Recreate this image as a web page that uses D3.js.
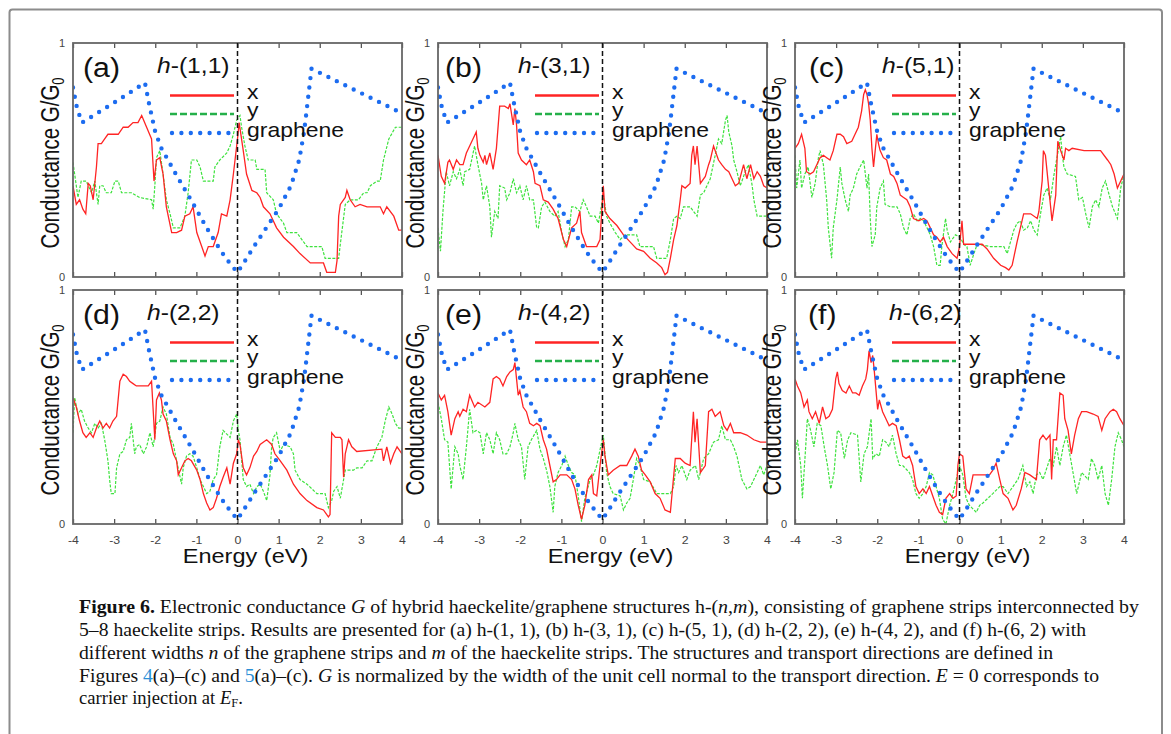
<!DOCTYPE html>
<html><head><meta charset="utf-8">
<script src="https://cdn.jsdelivr.net/npm/d3@7"></script>
<style>body{margin:0;background:#fff;} svg{display:block;}</style>
</head><body>
<svg id="chart" width="1171" height="734"></svg>
<script>
// ---------------- data ----------------
const energyTicks = [-4,-3,-2,-1,0,1,2,3,4];
const conductanceTicks = [0,1];
const panelTags = ["(a)","(b)","(c)","(d)","(e)","(f)"];
const structures = ["(1,1)","(3,1)","(5,1)","(2,2)","(4,2)","(6,2)"];
const legendNames = ["x","y","graphene"];

// graphene reference (same in every panel)
const grapheneCurve = [[-4,0.81],[-3.9,0.72],[-3.78,0.66],[-3.0,0.745],[-2.25,0.83],[-2.15,0.74],[-2.0,0.62],[-1.85,0.55],[-1.5,0.44],[-1.1,0.32],[-0.75,0.21],[-0.4,0.11],[-0.15,0.05],[0,0.02],[0.15,0.06],[0.4,0.13],[0.7,0.21],[1.0,0.29],[1.3,0.39],[1.5,0.5],[1.62,0.62],[1.72,0.77],[1.8,0.89],[4.0,0.70]];

const xA = [[-4.00,0.39],[-3.92,0.31],[-3.84,0.33],[-3.76,0.29],[-3.69,0.27],[-3.63,0.40],[-3.58,0.39],[-3.51,0.33],[-3.43,0.47],[-3.39,0.57],[-3.31,0.57],[-3.23,0.59],[-3.15,0.61],[-3.03,0.61],[-2.90,0.61],[-2.78,0.64],[-2.66,0.64],[-2.54,0.66],[-2.42,0.66],[-2.33,0.69],[-2.21,0.64],[-2.09,0.59],[-2.03,0.41],[-1.97,0.50],[-1.89,0.51],[-1.81,0.44],[-1.73,0.30],[-1.60,0.19],[-1.48,0.19],[-1.36,0.20],[-1.28,0.26],[-1.16,0.27],[-1.08,0.30],[-0.99,0.19],[-0.87,0.13],[-0.79,0.09],[-0.71,0.13],[-0.59,0.13],[-0.47,0.19],[-0.39,0.27],[-0.26,0.26],[-0.18,0.33],[-0.10,0.44],[0.00,0.59],[0.04,0.66],[0.14,0.54],[0.22,0.44],[0.35,0.37],[0.47,0.36],[0.55,0.34],[0.63,0.30],[0.79,0.27],[0.95,0.21],[1.12,0.17],[1.36,0.13],[1.52,0.10],[1.77,0.06],[2.09,0.06],[2.17,0.02],[2.38,0.02],[2.42,0.07],[2.46,0.26],[2.50,0.31],[2.62,0.34],[2.66,0.37],[2.74,0.33],[2.86,0.30],[2.98,0.31],[3.15,0.30],[3.47,0.30],[3.55,0.27],[3.63,0.30],[3.80,0.26],[3.92,0.20],[4.00,0.20]];
const yA = [[-4.00,0.49],[-3.96,0.44],[-3.88,0.34],[-3.80,0.41],[-3.68,0.41],[-3.55,0.36],[-3.47,0.41],[-3.39,0.31],[-3.35,0.39],[-3.27,0.39],[-3.19,0.36],[-3.07,0.36],[-2.98,0.41],[-2.90,0.41],[-2.82,0.36],[-2.58,0.36],[-2.38,0.34],[-2.09,0.33],[-2.05,0.29],[-2.01,0.39],[-1.97,0.51],[-1.89,0.54],[-1.81,0.44],[-1.73,0.33],[-1.64,0.27],[-1.56,0.21],[-1.40,0.21],[-1.28,0.26],[-1.20,0.36],[-1.12,0.50],[-0.99,0.50],[-0.91,0.47],[-0.83,0.41],[-0.59,0.41],[-0.55,0.47],[-0.43,0.50],[-0.26,0.53],[-0.18,0.56],[-0.10,0.61],[-0.02,0.67],[0.06,0.69],[0.10,0.64],[0.18,0.56],[0.26,0.50],[0.43,0.50],[0.47,0.46],[0.67,0.46],[0.71,0.36],[0.87,0.33],[0.95,0.27],[1.12,0.23],[1.20,0.19],[1.44,0.19],[1.69,0.13],[2.05,0.13],[2.13,0.08],[2.46,0.08],[2.50,0.14],[2.62,0.31],[2.74,0.33],[2.94,0.33],[3.07,0.36],[3.15,0.36],[3.23,0.39],[3.39,0.41],[3.47,0.41],[3.55,0.50],[3.68,0.59],[3.84,0.64],[4.00,0.64]];

const xB = [[-4.00,0.52],[-3.92,0.43],[-3.84,0.40],[-3.76,0.49],[-3.72,0.50],[-3.63,0.46],[-3.55,0.50],[-3.47,0.48],[-3.39,0.48],[-3.31,0.53],[-3.23,0.56],[-3.15,0.59],[-3.07,0.62],[-3.03,0.55],[-2.98,0.52],[-2.90,0.49],[-2.86,0.52],[-2.82,0.48],[-2.74,0.53],[-2.66,0.46],[-2.58,0.55],[-2.50,0.73],[-2.38,0.73],[-2.29,0.72],[-2.25,0.74],[-2.17,0.65],[-2.13,0.72],[-2.09,0.65],[-2.05,0.53],[-1.97,0.50],[-1.85,0.48],[-1.77,0.50],[-1.68,0.45],[-1.64,0.40],[-1.52,0.39],[-1.44,0.33],[-1.32,0.32],[-1.20,0.29],[-1.08,0.25],[-0.95,0.16],[-0.87,0.13],[-0.75,0.21],[-0.63,0.23],[-0.55,0.28],[-0.51,0.19],[-0.39,0.13],[-0.14,0.13],[-0.06,0.16],[0.02,0.39],[0.06,0.28],[0.18,0.25],[0.35,0.22],[0.51,0.18],[0.67,0.15],[0.83,0.12],[1.00,0.11],[1.16,0.08],[1.32,0.06],[1.44,0.04],[1.52,0.01],[1.58,0.02],[1.65,0.08],[1.73,0.16],[1.81,0.22],[1.89,0.33],[1.93,0.39],[2.01,0.38],[2.13,0.40],[2.17,0.52],[2.21,0.56],[2.25,0.48],[2.30,0.56],[2.38,0.40],[2.50,0.43],[2.58,0.48],[2.62,0.50],[2.70,0.56],[2.82,0.50],[2.90,0.48],[2.99,0.46],[3.07,0.45],[3.15,0.42],[3.23,0.39],[3.31,0.40],[3.43,0.48],[3.51,0.42],[3.60,0.48],[3.68,0.42],[3.76,0.45],[3.84,0.43],[3.92,0.39],[4.00,0.38]];
const yB = [[-4.00,0.21],[-3.94,0.11],[-3.88,0.28],[-3.80,0.45],[-3.72,0.39],[-3.63,0.45],[-3.55,0.42],[-3.47,0.46],[-3.39,0.39],[-3.35,0.45],[-3.23,0.46],[-3.11,0.56],[-3.03,0.48],[-2.94,0.40],[-2.90,0.33],[-2.82,0.39],[-2.74,0.30],[-2.70,0.17],[-2.62,0.28],[-2.54,0.25],[-2.50,0.39],[-2.38,0.38],[-2.33,0.33],[-2.25,0.36],[-2.17,0.42],[-2.09,0.36],[-2.01,0.39],[-1.93,0.33],[-1.85,0.39],[-1.77,0.33],[-1.68,0.33],[-1.60,0.21],[-1.56,0.21],[-1.48,0.30],[-1.40,0.32],[-1.28,0.28],[-1.16,0.26],[-1.08,0.28],[-0.99,0.19],[-0.91,0.13],[-0.83,0.16],[-0.75,0.30],[-0.67,0.30],[-0.55,0.28],[-0.47,0.33],[-0.39,0.30],[-0.30,0.26],[-0.18,0.26],[-0.10,0.23],[0.02,0.35],[0.10,0.26],[0.18,0.23],[0.31,0.19],[0.43,0.16],[0.55,0.18],[0.83,0.18],[0.91,0.13],[1.24,0.13],[1.32,0.08],[1.56,0.08],[1.65,0.16],[1.73,0.25],[1.81,0.26],[1.89,0.25],[1.97,0.30],[2.13,0.30],[2.30,0.26],[2.38,0.35],[2.46,0.36],[2.54,0.39],[2.62,0.42],[2.74,0.52],[2.82,0.59],[2.90,0.57],[2.99,0.67],[3.03,0.69],[3.07,0.62],[3.15,0.56],[3.19,0.50],[3.27,0.45],[3.35,0.39],[3.47,0.45],[3.55,0.48],[3.64,0.39],[3.68,0.33],[3.76,0.26],[4.00,0.26]];

const xC = [[-4.00,0.55],[-3.92,0.57],[-3.84,0.61],[-3.76,0.55],[-3.72,0.45],[-3.63,0.44],[-3.55,0.45],[-3.47,0.48],[-3.39,0.51],[-3.31,0.52],[-3.23,0.51],[-3.15,0.50],[-3.07,0.54],[-2.98,0.61],[-2.90,0.61],[-2.82,0.60],[-2.74,0.57],[-2.62,0.58],[-2.54,0.61],[-2.46,0.64],[-2.38,0.71],[-2.33,0.78],[-2.29,0.80],[-2.25,0.78],[-2.21,0.74],[-2.17,0.67],[-2.13,0.55],[-2.09,0.47],[-2.05,0.54],[-2.01,0.61],[-1.97,0.57],[-1.93,0.54],[-1.85,0.51],[-1.77,0.50],[-1.68,0.44],[-1.60,0.43],[-1.52,0.40],[-1.44,0.35],[-1.36,0.34],[-1.28,0.33],[-1.20,0.30],[-1.12,0.25],[-0.99,0.24],[-0.87,0.25],[-0.79,0.24],[-0.71,0.21],[-0.63,0.18],[-0.55,0.17],[-0.47,0.15],[-0.39,0.17],[-0.30,0.13],[-0.18,0.10],[-0.06,0.08],[0.00,0.13],[0.06,0.24],[0.10,0.14],[0.55,0.14],[0.67,0.12],[0.83,0.08],[1.00,0.05],[1.12,0.04],[1.20,0.03],[1.28,0.05],[1.40,0.15],[1.52,0.24],[1.56,0.27],[1.73,0.27],[1.89,0.25],[1.93,0.28],[2.01,0.41],[2.04,0.54],[2.09,0.52],[2.17,0.38],[2.25,0.24],[2.34,0.35],[2.39,0.58],[2.46,0.54],[2.54,0.50],[2.58,0.55],[2.66,0.54],[2.74,0.55],[3.03,0.54],[3.43,0.54],[3.60,0.50],[3.68,0.48],[3.76,0.44],[3.84,0.38],[3.92,0.41],[4.00,0.44]];
const yC = [[-4.00,0.52],[-3.96,0.38],[-3.88,0.50],[-3.84,0.38],[-3.76,0.44],[-3.68,0.47],[-3.59,0.34],[-3.51,0.40],[-3.43,0.51],[-3.39,0.54],[-3.31,0.48],[-3.23,0.33],[-3.19,0.21],[-3.11,0.08],[-3.07,0.21],[-2.98,0.33],[-2.90,0.47],[-2.86,0.40],[-2.78,0.33],[-2.70,0.28],[-2.66,0.35],[-2.58,0.38],[-2.50,0.44],[-2.42,0.47],[-2.33,0.50],[-2.25,0.38],[-2.21,0.44],[-2.17,0.25],[-2.13,0.13],[-2.05,0.18],[-2.01,0.30],[-1.93,0.38],[-1.85,0.41],[-1.81,0.31],[-1.68,0.30],[-1.52,0.30],[-1.44,0.27],[-1.36,0.21],[-1.28,0.18],[-1.20,0.25],[-1.12,0.27],[-1.03,0.24],[-0.95,0.25],[-0.87,0.24],[-0.79,0.21],[-0.71,0.18],[-0.63,0.13],[-0.55,0.05],[-0.47,0.05],[-0.43,0.13],[-0.34,0.25],[-0.30,0.20],[-0.22,0.15],[-0.10,0.18],[0.02,0.17],[0.10,0.14],[0.18,0.13],[0.26,0.05],[0.35,0.10],[0.43,0.14],[0.75,0.13],[1.08,0.13],[1.16,0.10],[1.24,0.15],[1.32,0.20],[1.40,0.23],[1.48,0.24],[1.56,0.20],[1.65,0.21],[1.73,0.24],[1.81,0.20],[1.89,0.18],[1.97,0.27],[2.05,0.35],[2.13,0.38],[2.21,0.33],[2.30,0.44],[2.38,0.52],[2.46,0.60],[2.50,0.52],[2.54,0.47],[2.62,0.44],[2.82,0.43],[2.90,0.33],[2.99,0.34],[3.07,0.27],[3.15,0.21],[3.23,0.30],[3.31,0.33],[3.39,0.30],[3.47,0.38],[3.55,0.41],[3.64,0.35],[3.72,0.30],[3.84,0.25],[3.92,0.38],[4.00,0.44]];

const xD = [[-4.00,0.54],[-3.92,0.50],[-3.84,0.44],[-3.76,0.39],[-3.68,0.37],[-3.59,0.39],[-3.51,0.37],[-3.43,0.41],[-3.35,0.44],[-3.27,0.41],[-3.19,0.43],[-3.11,0.41],[-3.03,0.44],[-2.94,0.46],[-2.86,0.61],[-2.78,0.64],[-2.70,0.63],[-2.62,0.61],[-2.54,0.60],[-2.46,0.59],[-2.38,0.59],[-2.29,0.59],[-2.17,0.59],[-2.09,0.61],[-2.01,0.36],[-1.97,0.53],[-1.90,0.56],[-1.85,0.53],[-1.81,0.47],[-1.73,0.44],[-1.64,0.36],[-1.56,0.30],[-1.48,0.27],[-1.44,0.21],[-1.36,0.24],[-1.28,0.27],[-1.20,0.28],[-1.12,0.27],[-0.99,0.23],[-0.91,0.19],[-0.83,0.13],[-0.75,0.09],[-0.67,0.06],[-0.59,0.07],[-0.51,0.11],[-0.43,0.16],[-0.35,0.20],[-0.26,0.24],[-0.18,0.17],[-0.10,0.26],[-0.02,0.30],[0.02,0.36],[0.06,0.34],[0.14,0.24],[0.22,0.21],[0.30,0.24],[0.39,0.29],[0.47,0.31],[0.55,0.34],[0.71,0.36],[0.83,0.34],[0.91,0.30],[1.04,0.27],[1.20,0.23],[1.36,0.17],[1.52,0.13],[1.69,0.10],[1.93,0.07],[2.09,0.06],[2.21,0.03],[2.25,0.04],[2.29,0.39],[2.38,0.37],[2.50,0.37],[2.54,0.36],[2.58,0.20],[2.62,0.30],[2.70,0.36],[2.78,0.33],[2.90,0.31],[3.51,0.32],[3.55,0.27],[3.63,0.33],[3.72,0.26],[3.80,0.30],[3.88,0.33],[4.00,0.30]];
const yD = [[-4.00,0.39],[-3.96,0.54],[-3.88,0.47],[-3.80,0.49],[-3.72,0.44],[-3.63,0.41],[-3.55,0.39],[-3.47,0.43],[-3.39,0.41],[-3.31,0.43],[-3.23,0.36],[-3.15,0.27],[-3.11,0.19],[-3.07,0.13],[-2.98,0.13],[-2.94,0.24],[-2.86,0.30],[-2.78,0.31],[-2.70,0.36],[-2.62,0.37],[-2.58,0.43],[-2.50,0.30],[-2.46,0.33],[-2.38,0.34],[-2.29,0.30],[-2.21,0.33],[-2.13,0.39],[-2.05,0.33],[-1.97,0.43],[-1.89,0.44],[-1.81,0.50],[-1.73,0.47],[-1.64,0.37],[-1.56,0.34],[-1.48,0.27],[-1.36,0.17],[-1.32,0.24],[-1.24,0.29],[-1.16,0.30],[-1.08,0.29],[-0.99,0.24],[-0.91,0.19],[-0.83,0.16],[-0.75,0.13],[-0.67,0.14],[-0.59,0.19],[-0.51,0.21],[-0.43,0.33],[-0.35,0.40],[-0.18,0.37],[-0.10,0.44],[-0.02,0.47],[0.02,0.40],[0.06,0.36],[0.14,0.19],[0.22,0.16],[0.30,0.17],[0.39,0.13],[0.47,0.16],[0.55,0.17],[0.63,0.14],[0.71,0.10],[0.79,0.21],[0.83,0.33],[0.87,0.37],[0.95,0.39],[1.04,0.31],[1.12,0.34],[1.28,0.33],[1.36,0.30],[1.40,0.23],[1.52,0.19],[1.69,0.17],[1.93,0.13],[2.13,0.13],[2.21,0.07],[2.29,0.10],[2.34,0.14],[2.42,0.16],[2.50,0.11],[2.58,0.19],[2.62,0.23],[2.82,0.23],[2.90,0.24],[3.03,0.24],[3.15,0.27],[3.27,0.27],[3.39,0.33],[3.51,0.37],[3.59,0.44],[3.68,0.50],[3.76,0.47],[3.84,0.43],[3.92,0.41],[4.00,0.41]];

const xE = [[-4.00,0.56],[-3.92,0.53],[-3.84,0.55],[-3.76,0.48],[-3.68,0.38],[-3.59,0.45],[-3.51,0.48],[-3.47,0.46],[-3.39,0.49],[-3.31,0.48],[-3.23,0.55],[-3.11,0.50],[-3.03,0.52],[-2.86,0.50],[-2.74,0.52],[-2.66,0.62],[-2.58,0.63],[-2.50,0.62],[-2.42,0.59],[-2.33,0.63],[-2.25,0.65],[-2.17,0.66],[-2.13,0.69],[-2.09,0.62],[-2.05,0.55],[-2.01,0.57],[-1.93,0.50],[-1.85,0.48],[-1.77,0.43],[-1.68,0.42],[-1.60,0.43],[-1.52,0.42],[-1.44,0.36],[-1.36,0.32],[-1.28,0.25],[-1.20,0.18],[-1.12,0.19],[-1.03,0.21],[-0.87,0.21],[-0.75,0.19],[-0.67,0.15],[-0.59,0.08],[-0.51,0.02],[-0.43,0.08],[-0.34,0.19],[-0.26,0.21],[-0.22,0.13],[-0.14,0.12],[-0.06,0.25],[0.02,0.36],[0.06,0.29],[0.14,0.21],[0.26,0.23],[0.43,0.25],[0.59,0.25],[0.71,0.29],[0.79,0.32],[0.87,0.29],[0.95,0.23],[1.04,0.21],[1.16,0.18],[1.28,0.13],[1.40,0.11],[1.52,0.06],[1.65,0.05],[1.77,0.28],[1.89,0.28],[2.01,0.26],[2.13,0.25],[2.21,0.48],[2.25,0.35],[2.30,0.45],[2.38,0.22],[2.50,0.25],[2.58,0.48],[2.66,0.49],[2.74,0.46],[2.86,0.48],[2.95,0.42],[3.03,0.40],[3.11,0.43],[3.19,0.39],[3.35,0.39],[3.51,0.38],[3.68,0.36],[3.84,0.35],[4.00,0.35]];
const yE = [[-4.00,0.52],[-3.92,0.45],[-3.84,0.36],[-3.76,0.35],[-3.68,0.15],[-3.59,0.33],[-3.51,0.30],[-3.47,0.25],[-3.39,0.19],[-3.31,0.33],[-3.23,0.49],[-3.15,0.39],[-3.07,0.40],[-2.98,0.39],[-2.90,0.30],[-2.82,0.39],[-2.74,0.36],[-2.66,0.30],[-2.58,0.39],[-2.50,0.36],[-2.42,0.30],[-2.33,0.30],[-2.25,0.33],[-2.17,0.39],[-2.13,0.43],[-2.05,0.36],[-1.97,0.33],[-1.89,0.19],[-1.81,0.33],[-1.73,0.36],[-1.60,0.40],[-1.52,0.32],[-1.44,0.28],[-1.36,0.23],[-1.28,0.16],[-1.20,0.05],[-1.16,0.16],[-1.08,0.22],[-0.99,0.25],[-0.91,0.29],[-0.83,0.25],[-0.75,0.22],[-0.67,0.21],[-0.59,0.12],[-0.51,0.01],[-0.43,0.11],[-0.30,0.19],[-0.22,0.21],[-0.14,0.25],[-0.02,0.35],[0.02,0.38],[0.10,0.22],[0.18,0.16],[0.26,0.13],[0.43,0.12],[0.51,0.06],[0.59,0.09],[0.67,0.11],[0.75,0.19],[0.83,0.28],[0.91,0.25],[1.00,0.19],[1.16,0.18],[1.32,0.13],[1.65,0.13],[1.73,0.16],[1.79,0.25],[1.85,0.22],[1.93,0.25],[2.05,0.19],[2.13,0.23],[2.26,0.25],[2.34,0.19],[2.46,0.28],[2.58,0.30],[2.70,0.35],[2.82,0.36],[2.90,0.42],[2.99,0.36],[3.11,0.36],[3.19,0.33],[3.27,0.29],[3.39,0.19],[3.51,0.15],[3.60,0.16],[3.68,0.19],[3.76,0.22],[3.84,0.25],[3.92,0.21],[4.00,0.25]];

const xF = [[-4.00,0.62],[-3.94,0.59],[-3.86,0.56],[-3.78,0.50],[-3.70,0.53],[-3.66,0.48],[-3.58,0.45],[-3.50,0.48],[-3.41,0.43],[-3.33,0.50],[-3.25,0.45],[-3.17,0.46],[-3.09,0.49],[-3.01,0.62],[-2.97,0.65],[-2.93,0.60],[-2.85,0.57],[-2.76,0.56],[-2.68,0.59],[-2.60,0.56],[-2.52,0.56],[-2.44,0.55],[-2.36,0.59],[-2.28,0.62],[-2.24,0.66],[-2.20,0.74],[-2.15,0.69],[-2.11,0.72],[-2.07,0.65],[-2.03,0.57],[-1.99,0.49],[-1.95,0.53],[-1.87,0.48],[-1.79,0.45],[-1.71,0.42],[-1.63,0.43],[-1.54,0.42],[-1.46,0.36],[-1.38,0.29],[-1.30,0.28],[-1.22,0.29],[-1.14,0.25],[-1.06,0.16],[-0.98,0.13],[-0.89,0.15],[-0.81,0.13],[-0.73,0.16],[-0.65,0.12],[-0.57,0.08],[-0.49,0.05],[-0.41,0.04],[-0.33,0.11],[-0.24,0.13],[-0.16,0.11],[-0.08,0.12],[-0.04,0.25],[0.00,0.30],[0.08,0.29],[0.16,0.15],[0.24,0.13],[0.33,0.21],[0.73,0.21],[0.81,0.23],[0.89,0.26],[0.98,0.19],[1.06,0.13],[1.18,0.11],[1.30,0.06],[1.38,0.08],[1.50,0.15],[1.59,0.22],[1.71,0.21],[1.87,0.19],[1.95,0.36],[2.03,0.38],[2.11,0.36],[2.20,0.38],[2.24,0.19],[2.28,0.36],[2.36,0.36],[2.44,0.56],[2.52,0.55],[2.56,0.45],[2.64,0.40],[2.72,0.30],[2.80,0.38],[2.89,0.45],[2.97,0.48],[3.09,0.48],[3.25,0.47],[3.37,0.46],[3.46,0.40],[3.54,0.45],[3.66,0.48],[3.74,0.49],[3.82,0.48],[3.90,0.45],[4.00,0.42]];
const yF = [[-4.00,0.30],[-3.94,0.36],[-3.86,0.25],[-3.82,0.11],[-3.74,0.33],[-3.70,0.45],[-3.62,0.40],[-3.54,0.33],[-3.46,0.43],[-3.37,0.42],[-3.29,0.33],[-3.21,0.25],[-3.13,0.15],[-3.05,0.22],[-2.97,0.40],[-2.89,0.39],[-2.80,0.28],[-2.72,0.36],[-2.64,0.39],[-2.48,0.38],[-2.40,0.18],[-2.32,0.30],[-2.24,0.33],[-2.15,0.45],[-2.11,0.28],[-2.03,0.30],[-1.95,0.29],[-1.87,0.36],[-1.79,0.35],[-1.71,0.33],[-1.63,0.38],[-1.54,0.30],[-1.46,0.25],[-1.38,0.25],[-1.22,0.22],[-1.14,0.19],[-1.06,0.13],[-0.98,0.11],[-0.89,0.13],[-0.81,0.16],[-0.73,0.22],[-0.65,0.21],[-0.57,0.16],[-0.49,0.11],[-0.41,0.02],[-0.33,0.00],[-0.24,0.08],[-0.16,0.13],[-0.08,0.19],[0.00,0.25],[0.08,0.21],[0.16,0.11],[0.24,0.08],[0.41,0.05],[0.49,0.08],[0.57,0.09],[0.69,0.11],[0.81,0.13],[0.98,0.16],[1.06,0.16],[1.18,0.13],[1.30,0.16],[1.42,0.19],[1.54,0.25],[1.63,0.16],[1.71,0.18],[1.79,0.13],[1.87,0.21],[1.95,0.22],[2.03,0.19],[2.20,0.28],[2.28,0.25],[2.36,0.33],[2.44,0.25],[2.52,0.33],[2.60,0.38],[2.68,0.30],[2.76,0.22],[2.85,0.13],[2.97,0.22],[3.13,0.19],[3.21,0.28],[3.29,0.25],[3.37,0.19],[3.46,0.25],[3.54,0.13],[3.62,0.08],[3.70,0.19],[3.78,0.33],[3.86,0.39],[3.94,0.36],[4.00,0.33]];

const seriesX = [xA, xB, xC, xD, xE, xF];
const seriesY = [yA, yB, yC, yD, yE, yF];

// ---------------- layout / style ----------------
const colLeft = [73, 438, 795], rowTop = [43, 290];
const PW = 329, PH = 234;
const tagDx = [10, 7, 14, 10, 7, 13];
const hDx = [84, 80, 87, 74, 80, 94];
const SX = 1.12;
const FONT = "'Liberation Sans', Arial, sans-serif";
const C_RED = "#ff2424", C_GREEN = "#3ee23e", C_GREEN_LEG = "#25b04a", C_BLUE = "#1c6cf0";

const svg = d3.select("#chart").style("font-family", FONT);
svg.append("rect").attr("width", 1171).attr("height", 734).attr("fill", "#fff");
svg.append("rect").attr("x", 9.5).attr("y", 9.5).attr("width", 1152.5).attr("height", 760)
  .attr("rx", 3).attr("fill", "none").attr("stroke", "#8c8c8c").attr("stroke-width", 2);

function sText(parent, x, y, size, anchor) {
  return parent.append("text")
    .attr("transform", `translate(${x},${y}) scale(${SX},1)`)
    .attr("font-size", size).attr("text-anchor", anchor || "start").attr("fill", "#111");
}

const defs = svg.append("defs");

panelTags.forEach((tag, i) => {
  const col = i % 3, row = Math.floor(i / 3);
  const L = colLeft[col], T = rowTop[row];
  const x = d3.scaleLinear().domain([-4, 4]).range([L, L + PW]);
  const y = d3.scaleLinear().domain([0, 1]).range([T + PH, T]);
  const g = svg.append("g");

  defs.append("clipPath").attr("id", "clip" + i).append("rect")
    .attr("x", L).attr("y", T - 2).attr("width", PW).attr("height", PH + 4);

  // ticks
  const bottom = g.append("g").attr("transform", `translate(0,${T + PH})`)
    .call(d3.axisBottom(x).tickValues(energyTicks).tickSize(-5).tickPadding(12)
      .tickFormat(row === 1 ? (d => String(d)) : ""));
  bottom.select(".domain").remove();
  bottom.selectAll("line").attr("stroke", "#555").attr("stroke-width", 1.3);
  bottom.selectAll("text").attr("font-size", 11).attr("fill", "#444").attr("font-family", FONT)
    .attr("transform", `scale(${SX},1)`);
  const top = g.append("g").attr("transform", `translate(0,${T})`)
    .call(d3.axisTop(x).tickValues(energyTicks).tickSize(-5).tickFormat(""));
  top.select(".domain").remove();
  top.selectAll("line").attr("stroke", "#555").attr("stroke-width", 1.3);

  const left = g.append("g").attr("transform", `translate(${L},0)`)
    .call(d3.axisLeft(y).tickValues(conductanceTicks).tickSize(0).tickPadding(8).tickFormat(d3.format("d")));
  left.select(".domain").remove();
  left.selectAll("text").attr("font-size", 11).attr("fill", "#444").attr("font-family", FONT);

  // curves
  const line = d3.line().x(d => x(d[0])).y(d => y(d[1]));
  const plot = g.append("g").attr("clip-path", `url(#clip${i})`);
  plot.append("path").datum(seriesY[i]).attr("d", line).attr("fill", "none")
    .attr("stroke", C_GREEN).attr("stroke-width", 1.2).attr("stroke-dasharray", "3,1.5");
  plot.append("path").datum(seriesX[i]).attr("d", line).attr("fill", "none")
    .attr("stroke", C_RED).attr("stroke-width", 1.3);
  plot.append("path").datum(grapheneCurve).attr("d", line).attr("fill", "none")
    .attr("stroke", C_BLUE).attr("stroke-width", 4.4).attr("stroke-linecap", "round")
    .attr("stroke-dasharray", "0,9.4");

  // frame
  g.append("rect").attr("x", L).attr("y", T).attr("width", PW).attr("height", PH)
    .attr("fill", "none").attr("stroke", "#666").attr("stroke-width", 1.8);

  // labels
  sText(g, L + tagDx[i], T + 34, 27).text(tag);
  const h = sText(g, L + hDx[i], T + 30, 22);
  h.append("tspan").attr("font-style", "italic").text("h");
  h.append("tspan").text("-" + structures[i]);

  // legend
  const lx0 = L + 97, lx1 = L + 161, ltx = L + 174;
  const legY = [T + 52.5, T + 71, T + 90];
  g.append("line").attr("x1", lx0).attr("x2", lx1).attr("y1", legY[0]).attr("y2", legY[0])
    .attr("stroke", C_RED).attr("stroke-width", 2.6);
  g.append("line").attr("x1", lx0).attr("x2", lx1).attr("y1", legY[1]).attr("y2", legY[1])
    .attr("stroke", C_GREEN_LEG).attr("stroke-width", 2.3).attr("stroke-dasharray", "7,3");
  g.append("line").attr("x1", lx0 + 2).attr("x2", lx1).attr("y1", legY[2]).attr("y2", legY[2])
    .attr("stroke", C_BLUE).attr("stroke-width", 4.4).attr("stroke-linecap", "round")
    .attr("stroke-dasharray", "0,9.4");
  legendNames.forEach((n, k) => sText(g, ltx, legY[k] + 3 + (k === 2 ? 1 : 0), 20.5).text(n));

  // y label
  const yl = g.append("text")
    .attr("transform", `translate(${L - 8},${T + PH / 2 + 3}) rotate(-90) scale(1,1.28)`)
    .attr("text-anchor", "middle").attr("font-size", 20.5).attr("fill", "#111")
    .attr("dy", "-0.22em");
  yl.append("tspan").text("Conductance G/G");
  yl.append("tspan").attr("font-size", 13).attr("dy", 4).text("0");

  if (row === 1) {
    sText(g, L + PW / 2 + 8, T + PH + 39, 21, "middle").text("Energy (eV)");
  }
});

// zero dashed lines spanning both rows
colLeft.forEach(L => {
  const x = d3.scaleLinear().domain([-4, 4]).range([L, L + PW]);
  svg.append("line").attr("x1", x(0)).attr("x2", x(0)).attr("y1", rowTop[0]).attr("y2", rowTop[1] + PH)
    .attr("stroke", "#111").attr("stroke-width", 1.5).attr("stroke-dasharray", "5,3");
});

// ---------------- caption ----------------
const cap = svg.append("g").attr("font-family", "'Liberation Serif', 'Times New Roman', serif")
  .attr("font-size", 18.6).attr("fill", "#111");
const capX = 79, capY = [613, 636, 659, 682, 704];
const capLen = [1060, 1007, 974, 1020, null];
const capLines = [
  [["Figure 6.", "b"], [" Electronic conductance "], ["G", "i"], [" of hybrid haeckelite/graphene structures h-("], ["n", "i"], [","], ["m", "i"], ["), consisting of graphene strips interconnected by"]],
  [["5–8 haeckelite strips. Results are presented for (a) h-(1, 1), (b) h-(3, 1), (c) h-(5, 1), (d) h-(2, 2), (e) h-(4, 2), and (f) h-(6, 2) with"]],
  [["different widths "], ["n", "i"], [" of the graphene strips and "], ["m", "i"], [" of the haeckelite strips. The structures and transport directions are defined in"]],
  [["Figures "], ["4", "link"], ["(a)–(c) and "], ["5", "link"], ["(a)–(c). "], ["G", "i"], [" is normalized by the width of the unit cell normal to the transport direction. "], ["E", "i"], [" = 0 corresponds to"]],
  [["carrier injection at "], ["E", "i"], ["F", "sub"], [".", "after"]]
];
capLines.forEach((parts, li) => {
  const t = cap.append("text").attr("x", capX).attr("y", capY[li]);
  if (capLen[li]) t.attr("textLength", capLen[li]).attr("lengthAdjust", "spacingAndGlyphs");
  parts.forEach(([s, st]) => {
    const ts = t.append("tspan").text(s);
    if (st === "b") ts.attr("font-weight", "bold");
    if (st === "i") ts.attr("font-style", "italic");
    if (st === "link") ts.attr("fill", "#2b8fd6");
    if (st === "sub") ts.attr("font-size", 12.5).attr("dy", 3);
    if (st === "after") ts.attr("dy", -3);
  });
});
</script></body></html>
